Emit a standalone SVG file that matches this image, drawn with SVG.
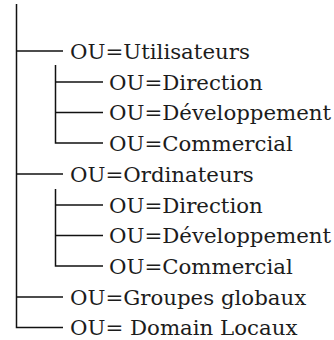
<svg xmlns="http://www.w3.org/2000/svg" width="334" height="340" viewBox="0 0 334 340">
  <style>
    .link { stroke: #111; stroke-width: 1.5; fill: none; }
    .label { font-family: "DejaVu Serif", serif; font-size: 21.3px; fill: #1c1c1c; }
  </style>
  <rect width="334" height="340" fill="#fff"/>
  <g id="connectors">
    <!-- trunk -->
    <path class="link" d="M16.5 4 V327.5 H63"/>
    <path class="link" d="M16.5 51 H63"/>
    <path class="link" d="M16.5 174 H63"/>
    <path class="link" d="M16.5 297 H63"/>
    <!-- Utilisateurs branch -->
    <path class="link" d="M55.5 65 V143 H103"/>
    <path class="link" d="M55.5 82 H103"/>
    <path class="link" d="M55.5 112.5 H103"/>
    <!-- Ordinateurs branch -->
    <path class="link" d="M55.5 189 V266 H103"/>
    <path class="link" d="M55.5 205 H103"/>
    <path class="link" d="M55.5 235.5 H103"/>
  </g>
  <g id="ou-utilisateurs"><text class="label" x="70" y="58.5">OU=Utilisateurs</text></g>
  <g id="ou-utilisateurs-direction"><text class="label" x="109" y="89.5">OU=Direction</text></g>
  <g id="ou-utilisateurs-developpement"><text class="label" x="109" y="120">OU=Développement</text></g>
  <g id="ou-utilisateurs-commercial"><text class="label" x="109" y="150.5">OU=Commercial</text></g>
  <g id="ou-ordinateurs"><text class="label" x="70" y="181.5">OU=Ordinateurs</text></g>
  <g id="ou-ordinateurs-direction"><text class="label" x="109" y="212.5">OU=Direction</text></g>
  <g id="ou-ordinateurs-developpement"><text class="label" x="109" y="243">OU=Développement</text></g>
  <g id="ou-ordinateurs-commercial"><text class="label" x="109" y="273.5">OU=Commercial</text></g>
  <g id="ou-groupes-globaux"><text class="label" x="70" y="304.5">OU=Groupes globaux</text></g>
  <g id="ou-domain-locaux"><text class="label" x="70" y="335">OU= Domain Locaux</text></g>
</svg>
